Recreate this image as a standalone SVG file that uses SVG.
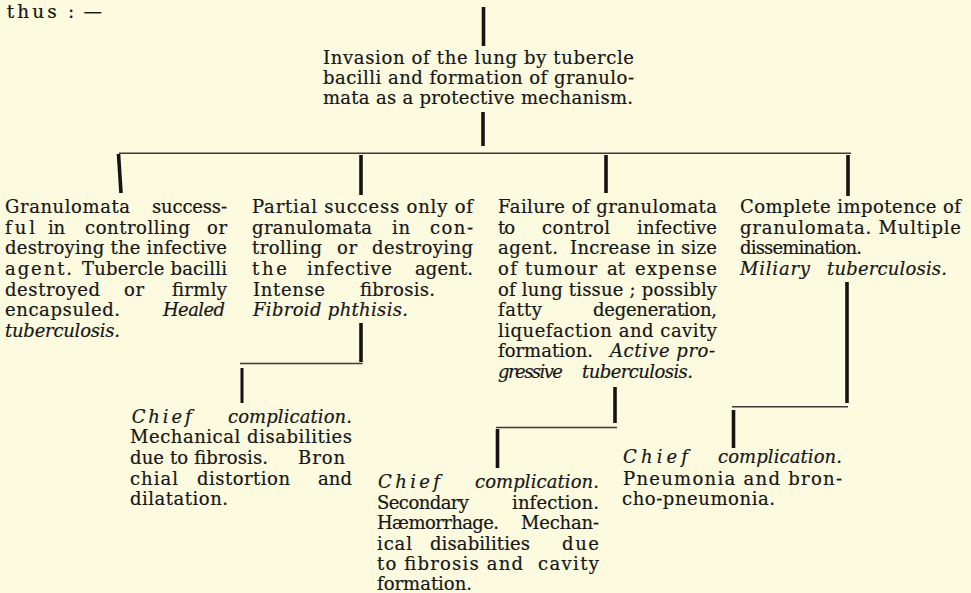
<svg xmlns="http://www.w3.org/2000/svg" width="971" height="593" viewBox="0 0 971 593">
<style>
text { font-family: "DejaVu Serif", "Liberation Serif", serif; font-size: 18px; fill: #161616; stroke: #161616; stroke-width: 0.2; }
.i { font-style: italic; }
.bar { stroke: #141414; stroke-width: 3.6; stroke-linecap: butt; }
.thin { stroke: #3a3a3a; stroke-width: 1.5; }
</style>
<rect x="0" y="0" width="971" height="593" fill="#fcfadf"/>
<text x="6.7" y="18" textLength="50" lengthAdjust="spacing" style="font-size:18.5px">thus</text>
<text x="68" y="18" textLength="34" lengthAdjust="spacing" style="font-size:18.5px">:—</text>

<g id="connectors">
  <line class="bar" x1="483.5" y1="7" x2="483.5" y2="46"/>
  <line class="bar" x1="483" y1="112" x2="483" y2="146"/>
  <line class="thin" x1="119" y1="153.3" x2="851" y2="153.3"/>
  <line class="bar" x1="118.5" y1="154" x2="121" y2="193"/>
  <line class="bar" x1="361" y1="155" x2="361" y2="195"/>
  <line class="bar" x1="606" y1="155" x2="606" y2="193"/>
  <line class="bar" x1="848" y1="155" x2="848" y2="196"/>
  <line class="bar" x1="361" y1="323" x2="361" y2="362"/>
  <line class="thin" x1="240" y1="363.5" x2="362.5" y2="363.5"/>
  <line class="bar" x1="242" y1="368" x2="242" y2="403" style="stroke-width:3"/>
  <line class="bar" x1="615" y1="387" x2="615" y2="423"/>
  <line class="thin" x1="496" y1="427.5" x2="617" y2="427.5"/>
  <line class="bar" x1="497.5" y1="429" x2="497.5" y2="468"/>
  <line class="bar" x1="847" y1="282" x2="847" y2="403"/>
  <line class="thin" x1="732" y1="406.7" x2="848" y2="406.7"/>
  <line class="bar" x1="733.5" y1="410" x2="733.5" y2="448"/>
</g>

<g id="invasion">
  <text x="323" y="64" textLength="311" lengthAdjust="spacing">Invasion of the lung by tubercle</text>
  <text x="323" y="84" textLength="311" lengthAdjust="spacing">bacilli and formation of granulo-</text>
  <text x="323" y="104" textLength="310" lengthAdjust="spacing">mata as a protective mechanism.</text>
</g>

<g id="healed">
  <text x="5" y="213.3" textLength="125" lengthAdjust="spacing">Granulomata</text>
  <text x="152" y="213.3" textLength="75" lengthAdjust="spacing">success-</text>
  <text x="5" y="234" textLength="30" lengthAdjust="spacing">ful</text>
  <text x="48" y="234" textLength="17" lengthAdjust="spacing">in</text>
  <text x="85" y="234" textLength="105" lengthAdjust="spacing">controlling</text>
  <text x="207" y="234" textLength="20" lengthAdjust="spacing">or</text>
  <text x="5" y="254.3" textLength="222" lengthAdjust="spacing">destroying the infective</text>
  <text x="5" y="275" textLength="67" lengthAdjust="spacing">agent.</text>
  <text x="82" y="275" textLength="145" lengthAdjust="spacing">Tubercle bacilli</text>
  <text x="5" y="295.7" textLength="95" lengthAdjust="spacing">destroyed</text>
  <text x="124" y="295.7" textLength="20" lengthAdjust="spacing">or</text>
  <text x="172" y="295.7" textLength="55" lengthAdjust="spacing">firmly</text>
  <text x="5" y="316" textLength="115" lengthAdjust="spacing">encapsuled.</text>
  <text class="i" x="163" y="316" textLength="62" lengthAdjust="spacing">Healed</text>
  <text class="i" x="5" y="336.5" textLength="115" lengthAdjust="spacing">tuberculosis.</text>
</g>

<g id="fibroid">
  <text x="252" y="213.3" textLength="221" lengthAdjust="spacing">Partial success only of</text>
  <text x="252" y="234" textLength="120" lengthAdjust="spacing">granulomata</text>
  <text x="392" y="234" textLength="18" lengthAdjust="spacing">in</text>
  <text x="430" y="234" textLength="43" lengthAdjust="spacing">con-</text>
  <text x="252" y="254.3" textLength="70" lengthAdjust="spacing">trolling</text>
  <text x="337" y="254.3" textLength="20" lengthAdjust="spacing">or</text>
  <text x="372" y="254.3" textLength="101" lengthAdjust="spacing">destroying</text>
  <text x="252" y="275" textLength="35" lengthAdjust="spacing">the</text>
  <text x="307" y="275" textLength="85" lengthAdjust="spacing">infective</text>
  <text x="415" y="275" textLength="58" lengthAdjust="spacing">agent.</text>
  <text x="253" y="295.7" textLength="72" lengthAdjust="spacing">Intense</text>
  <text x="360" y="295.7" textLength="75" lengthAdjust="spacing">fibrosis.</text>
  <text class="i" x="253" y="316" textLength="155" lengthAdjust="spacing">Fibroid phthisis.</text>
</g>

<g id="active">
  <text x="498" y="213.3" textLength="219" lengthAdjust="spacing">Failure of granulomata</text>
  <text x="498" y="234" textLength="17" lengthAdjust="spacing">to</text>
  <text x="542" y="234" textLength="68" lengthAdjust="spacing">control</text>
  <text x="637" y="234" textLength="80" lengthAdjust="spacing">infective</text>
  <text x="498" y="254.3" textLength="60" lengthAdjust="spacing">agent.</text>
  <text x="570" y="254.3" textLength="147" lengthAdjust="spacing">Increase in size</text>
  <text x="498" y="275" textLength="19" lengthAdjust="spacing">of</text>
  <text x="525" y="275" textLength="72" lengthAdjust="spacing">tumour</text>
  <text x="607" y="275" textLength="18" lengthAdjust="spacing">at</text>
  <text x="635" y="275" textLength="82" lengthAdjust="spacing">expense</text>
  <text x="498" y="295.7" textLength="219" lengthAdjust="spacing">of lung tissue ; possibly</text>
  <text x="498" y="316" textLength="44" lengthAdjust="spacing">fatty</text>
  <text x="593" y="316" textLength="124" lengthAdjust="spacing">degeneration,</text>
  <text x="498" y="336.7" textLength="219" lengthAdjust="spacing">liquefaction and cavity</text>
  <text x="498" y="357.3" textLength="95" lengthAdjust="spacing">formation.</text>
  <text class="i" x="610" y="357.3" textLength="105" lengthAdjust="spacing">Active pro-</text>
  <text class="i" x="498" y="377.7" textLength="65" lengthAdjust="spacing">gressive</text>
  <text class="i" x="582" y="377.7" textLength="111" lengthAdjust="spacing">tuberculosis.</text>
</g>

<g id="miliary">
  <text x="740" y="213.3" textLength="221" lengthAdjust="spacing">Complete impotence of</text>
  <text x="740" y="234" textLength="221" lengthAdjust="spacing">granulomata. Multiple</text>
  <text x="740" y="254.3" textLength="122" lengthAdjust="spacing">dissemination.</text>
  <text class="i" x="740" y="275" textLength="70" lengthAdjust="spacing">Miliary</text>
  <text class="i" x="827" y="275" textLength="120" lengthAdjust="spacing">tuberculosis.</text>
</g>

<g id="complication-fibroid">
  <text class="i" x="131.7" y="422.7" textLength="60" lengthAdjust="spacing">Chief</text>
  <text class="i" x="228" y="422.7" textLength="124" lengthAdjust="spacing">complication.</text>
  <text x="130" y="443.3" textLength="222" lengthAdjust="spacing">Mechanical disabilities</text>
  <text x="130" y="464" textLength="138" lengthAdjust="spacing">due to fibrosis.</text>
  <text x="298" y="464" textLength="47" lengthAdjust="spacing">Bron</text>
  <text x="130" y="484.7" textLength="48" lengthAdjust="spacing">chial</text>
  <text x="197" y="484.7" textLength="93" lengthAdjust="spacing">distortion</text>
  <text x="318" y="484.7" textLength="34" lengthAdjust="spacing">and</text>
  <text x="130" y="505" textLength="98" lengthAdjust="spacing">dilatation.</text>
</g>

<g id="complication-active">
  <text class="i" x="378" y="488.3" textLength="62" lengthAdjust="spacing">Chief</text>
  <text class="i" x="475" y="488.3" textLength="124" lengthAdjust="spacing">complication.</text>
  <text x="377" y="509" textLength="92" lengthAdjust="spacing">Secondary</text>
  <text x="512" y="509" textLength="87" lengthAdjust="spacing">infection.</text>
  <text x="377" y="529.3" textLength="122" lengthAdjust="spacing">Hæmorrhage.</text>
  <text x="521" y="529.3" textLength="78" lengthAdjust="spacing">Mechan-</text>
  <text x="377" y="550" textLength="35" lengthAdjust="spacing">ical</text>
  <text x="430" y="550" textLength="100" lengthAdjust="spacing">disabilities</text>
  <text x="562" y="550" textLength="37" lengthAdjust="spacing">due</text>
  <text x="377" y="570" textLength="146" lengthAdjust="spacing">to fibrosis and</text>
  <text x="538" y="570" textLength="61" lengthAdjust="spacing">cavity</text>
  <text x="377" y="590" textLength="95" lengthAdjust="spacing">formation.</text>
</g>

<g id="complication-miliary">
  <text class="i" x="623" y="463.3" textLength="65" lengthAdjust="spacing">Chief</text>
  <text class="i" x="718" y="463.3" textLength="124" lengthAdjust="spacing">complication.</text>
  <text x="623" y="485" textLength="219" lengthAdjust="spacing">Pneumonia and bron-</text>
  <text x="622" y="505" textLength="153" lengthAdjust="spacing">cho-pneumonia.</text>
</g>
</svg>
